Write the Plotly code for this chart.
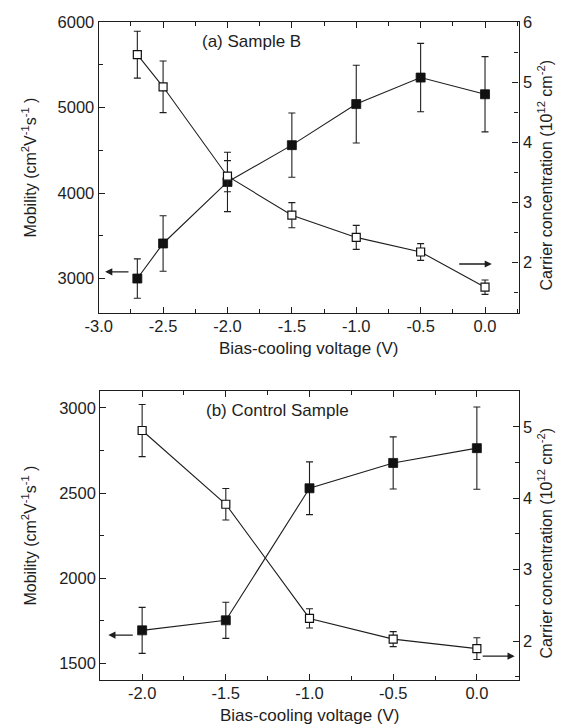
import plotly.graph_objects as go

# ---------------- data ----------------
# (a) Sample B
volt_a = [-2.7, -2.5, -2.0, -1.5, -1.0, -0.5, 0.0]
mob_a = [3000, 3410, 4130, 4560, 5040, 5350, 5155]
mob_a_err = [230, 325, 347, 375, 455, 400, 440]
conc_a = [5.455, 4.92, 3.43, 2.78, 2.41, 2.167, 1.58]
conc_a_err = [0.39, 0.43, 0.26, 0.21, 0.20, 0.14, 0.12]

# (b) Control Sample
volt_b = [-2.0, -1.5, -1.0, -0.5, 0.0]
mob_b = [1693, 1752, 2528, 2677, 2764]
mob_b_err = [135, 106, 155, 153, 242]
conc_b = [4.948, 3.916, 2.318, 2.028, 1.895]
conc_b_err = [0.365, 0.22, 0.135, 0.105, 0.153]

x_ticks_a = [-3.0, -2.5, -2.0, -1.5, -1.0, -0.5, 0.0]
x_ticks_b = [-2.0, -1.5, -1.0, -0.5, 0.0]

FONT = "Liberation Sans, Arial, sans-serif"
INK = "#1e1e1e"
TICK_SIZE = 16.5
XTITLE_SIZE = 17
YTITLE_SIZE = 16

fig = go.Figure()


def add_pair(x, mob, mob_err, conc, conc_err, xa, ya_left, ya_right):
    fig.add_trace(go.Scatter(
        x=x, y=mob, xaxis=xa, yaxis=ya_left, mode="lines+markers",
        line=dict(color=INK, width=1.1),
        marker=dict(symbol="square", size=9, color="#111111",
                    line=dict(color="#111111", width=0.8)),
        error_y=dict(type="data", array=mob_err, visible=True,
                     color=INK, thickness=1.1, width=3.5),
        showlegend=False, name="Mobility"))
    fig.add_trace(go.Scatter(
        x=x, y=conc, xaxis=xa, yaxis=ya_right, mode="lines+markers",
        line=dict(color=INK, width=1.1),
        marker=dict(symbol="square", size=8, color="white",
                    line=dict(color="#111111", width=1.2)),
        error_y=dict(type="data", array=conc_err, visible=True,
                     color=INK, thickness=1.1, width=3.5),
        showlegend=False, name="Carrier concentration"))


add_pair(volt_a, mob_a, mob_a_err, conc_a, conc_a_err, "x", "y", "y2")
add_pair(volt_b, mob_b, mob_b_err, conc_b, conc_b_err, "x2", "y3", "y4")

tickfont = dict(family=FONT, size=TICK_SIZE, color=INK)


def xax(domain, anchor, rng, tickvals):
    return dict(domain=domain, anchor=anchor, range=rng,
                tickvals=tickvals, ticktext=[f"{v:.1f}" for v in tickvals],
                ticks="inside", ticklen=6, tickwidth=1.1, tickcolor=INK,
                minor=dict(ticks="inside", ticklen=4, tickwidth=1.1,
                           tickcolor=INK, dtick=0.25, tick0=0),
                showline=True, linecolor=INK, linewidth=1.2, mirror="ticks",
                showgrid=False, zeroline=False, tickfont=tickfont,
                ticklabelstandoff=-2, automargin=False)


def yax(domain, anchor, rng, dtick, minor_dtick, side="left", overlay=None):
    d = dict(domain=domain, anchor=anchor, range=rng, dtick=dtick, tick0=0,
             ticks="inside", ticklen=6, tickwidth=1.1, tickcolor=INK,
             minor=dict(ticks="inside", ticklen=4, tickwidth=1.1,
                        tickcolor=INK, dtick=minor_dtick, tick0=0),
             showline=True, linecolor=INK, linewidth=1.2, side=side,
             showgrid=False, zeroline=False, tickfont=tickfont,
             automargin=False)
    if overlay:
        d["overlaying"] = overlay
        d.pop("domain")
    return d


xd_a = [90.7 / 565, 510.5 / 565]
yd_a = [1 - 305 / 726, 1 - 14 / 726]
xd_b = [92.3 / 565, 510.7 / 565]
yd_b = [1 - 671.7 / 726, 1 - 383.3 / 726]

fig.update_layout(
    width=565, height=726,
    margin=dict(l=0, r=0, t=0, b=0),
    paper_bgcolor="white", plot_bgcolor="white",
    template="none",
    font=dict(family=FONT, color=INK),
    xaxis=xax(xd_a, "y", [-3.0, 0.26], x_ticks_a),
    yaxis=yax(yd_a, "x", [2597, 6000], 1000, 500),
    yaxis2=yax(None, "x", [1.15, 6.0], 1, 0.5, side="right", overlay="y"),
    xaxis2=xax(xd_b, "y3", [-2.25, 0.25], x_ticks_b),
    yaxis3=yax(yd_b, "x2", [1403, 3098], 500, 250),
    yaxis4=yax(None, "x2", [1.46, 5.497], 1, 0.5, side="right", overlay="y3"),
)

xtf = dict(family=FONT, size=XTITLE_SIZE, color=INK)
ytf = dict(family=FONT, size=YTITLE_SIZE, color=INK)
ann = []
# axis titles
ann.append(dict(text="Bias-cooling voltage (V)", xref="paper", yref="paper",
                x=(xd_a[0] + xd_a[1]) / 2, y=1 - 340 / 726, showarrow=False,
                font=xtf, xanchor="center", yanchor="middle"))
ann.append(dict(text="Bias-cooling voltage (V)", xref="paper", yref="paper",
                x=(xd_b[0] + xd_b[1]) / 2, y=1 - 707 / 726, showarrow=False,
                font=xtf, xanchor="center", yanchor="middle"))
ymob = "Mobility (cm<sup>2</sup>V<sup>-1</sup>s<sup>-1</sup> )"
yconc = "Carrier concentration (10<sup>12</sup> cm<sup>-2</sup>)"
for yd, dy_r in ((yd_a, -8 / 726), (yd_b, -8 / 726)):
    yc = (yd[0] + yd[1]) / 2
    ann.append(dict(text=ymob, xref="paper", yref="paper", x=21 / 565, y=yc,
                    textangle=-90, showarrow=False, font=ytf,
                    xanchor="center", yanchor="middle"))
    ann.append(dict(text=yconc, xref="paper", yref="paper", x=537 / 565,
                    y=yc + dy_r, textangle=-90, showarrow=False, font=ytf,
                    xanchor="center", yanchor="middle"))
# panel labels
ann.append(dict(text="(a) Sample B", xref="x", yref="y", x=-1.81, y=5770,
                showarrow=False, font=xtf, xanchor="center", yanchor="middle"))
ann.append(dict(text="(b) Control Sample", xref="x2", yref="y3", x=-1.19,
                y=2985, showarrow=False, font=xtf, xanchor="center",
                yanchor="middle"))
# arrows indicating axes
arrow = dict(text="", showarrow=True, arrowhead=2, arrowsize=1.1,
             arrowwidth=1.3, arrowcolor=INK)
ann.append(dict(arrow, xref="x", yref="y", axref="x", ayref="y",
                x=-2.95, y=3078, ax=-2.757, ay=3078))
ann.append(dict(arrow, xref="x", yref="y2", axref="x", ayref="y2",
                x=0.053, y=1.967, ax=-0.212, ay=1.967))
ann.append(dict(arrow, xref="x2", yref="y3", axref="x2", ayref="y3",
                x=-2.202, y=1665, ax=-2.047, ay=1665))
ann.append(dict(arrow, xref="x2", yref="y4", axref="x2", ayref="y4",
                x=0.226, y=1.79, ax=0.026, ay=1.79))
fig.update_layout(annotations=ann)

fig.write_html("out.html")
